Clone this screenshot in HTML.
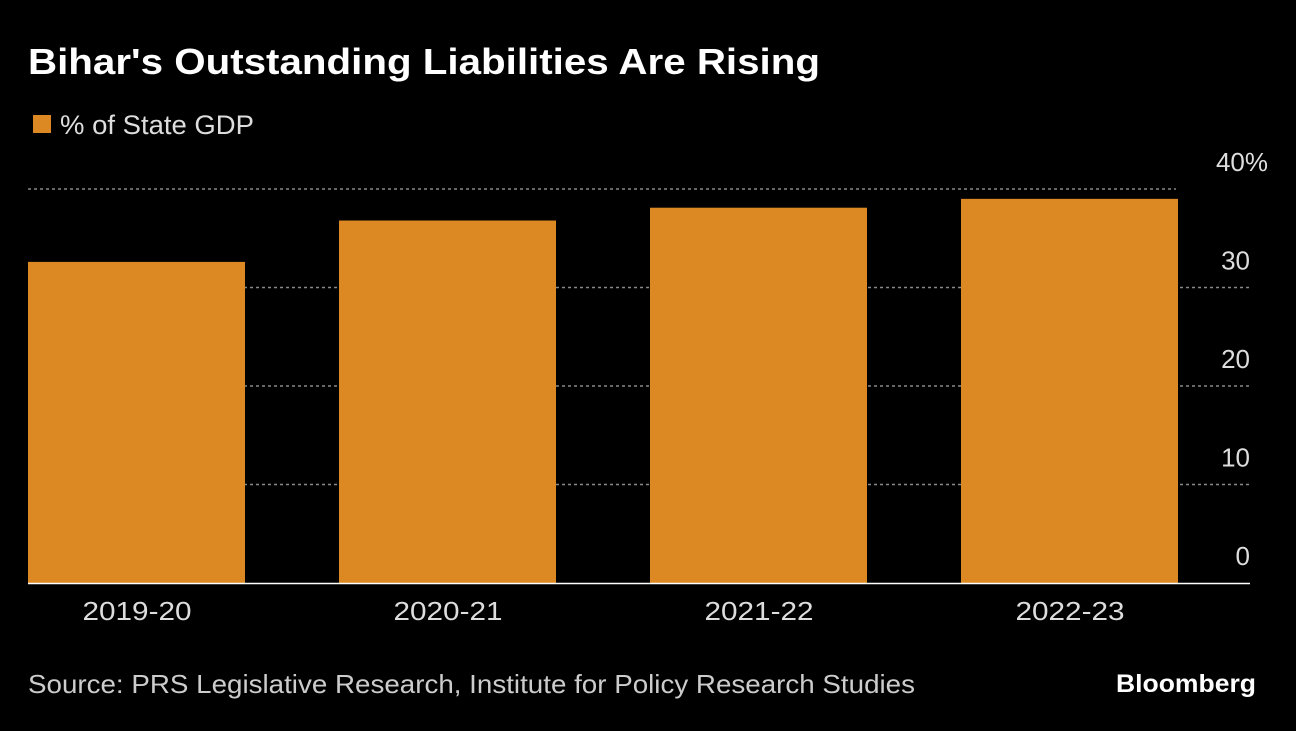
<!DOCTYPE html>
<html><head><meta charset="utf-8"><style>
body{margin:0;background:#000;width:1296px;height:726px;overflow:hidden;font-family:"Liberation Sans",sans-serif;color:#ddd}
</style></head><body>
<svg width="1296" height="726">
<text x="28" y="74" fill="#fff" font-size="36" font-weight="bold" textLength="792" lengthAdjust="spacingAndGlyphs">Bihar's Outstanding Liabilities Are Rising</text>
<rect x="33" y="115" width="18" height="18" fill="#dc8923"/>
<text x="60" y="134" fill="#ddd" font-size="27" textLength="194" lengthAdjust="spacingAndGlyphs">% of State GDP</text>
<g id="grid"></g><g id="bars"></g><g id="xl"></g>
<line x1="28" x2="1250" y1="583.5" y2="583.5" stroke="#fff" stroke-width="1.5"/>
<text x="28" y="693" fill="#ccc" font-size="26" textLength="887" lengthAdjust="spacingAndGlyphs">Source: PRS Legislative Research, Institute for Policy Research Studies</text>
<text x="1116" y="692" fill="#fff" font-size="25" font-weight="bold" textLength="140" lengthAdjust="spacingAndGlyphs">Bloomberg</text>
</svg>
<script>
const categories=["2019-20","2020-21","2021-22","2022-23"];
const values=[32.6,36.8,38.1,39.0];
const ticks=[0,10,20,30,40];
const tickLabels=["0","10","20","30","40%"];
const ns="http://www.w3.org/2000/svg";
const y=v=>583-v*9.85;
const x=i=>28+i*311;
const bw=217;
function mk(t,a,p){const e=document.createElementNS(ns,t);for(const k in a)e.setAttribute(k,a[k]);p.appendChild(e);return e;}
const g=document.getElementById('grid');
ticks.forEach((t,i)=>{
 if(t>0){const l=mk('line',{x1:28,x2:t===40?1176:1250,y1:y(t),y2:y(t),stroke:'#888','stroke-width':1.5,'stroke-dasharray':'3,3'},g);
 
 }
 const tx=mk('text',{x:1250,y:y(t)-18,fill:'#ddd','font-size':26,'text-anchor':'end'},g);
 if(t===40){tx.setAttribute('x',1268);tx.setAttribute('y',y(t)-18);}
 tx.textContent=tickLabels[i];
 
 
});
const b=document.getElementById('bars'),xl=document.getElementById('xl');
categories.forEach((c,i)=>{
 const r=mk('rect',{x:x(i),y:y(values[i]),width:bw,height:583-y(values[i]),fill:'#dc8923'},b);
 
 
 const t=mk('text',{x:x(i)+bw/2-54,y:620,fill:'#ddd','font-size':26,textLength:109,lengthAdjust:'spacingAndGlyphs'},xl);
 t.textContent=c;
 
 
});
</script>
</body></html>
